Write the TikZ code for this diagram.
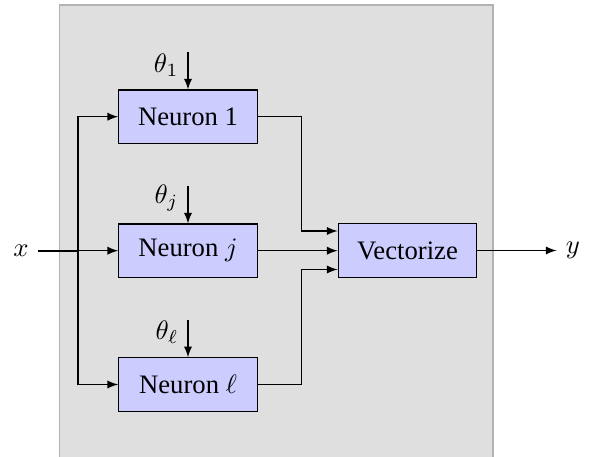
\documentclass[tikz,border=0pt]{standalone}
\usepackage[no-math]{fontspec}
\setmainfont{Liberation Serif}
\usetikzlibrary{calc,arrows}
\begin{document}
\begin{tikzpicture}[x=0.375pt,y=-0.375pt,
  blk/.style={draw=black,fill=blue!20,minimum width=52pt,minimum height=20pt,inner sep=0pt,line width=0.4pt},
  conn/.style={-latex,line width=0.4pt},
  lbl/.style={inner sep=0pt}]
\useasboundingbox (0,0) rectangle (594,457);
\clip (0,0) rectangle (594,457);
\draw[draw=gray!60,fill=gray!25] (59.5,5) rectangle (493,470);
\node[blk] (n1) at (188,116.7) {Neuron 1};
\node[blk] (nj) at (188,250.7) {Neuron $j$};
\node[blk] (nl) at (188,384.5) {Neuron $\ell$};
\node[blk] (vec) at (407.5,250.5) {Vectorize};
\node (x) at (21,250.7) {$x$};
\node (y) at (573,250.5) {$y$};
\coordinate (t1) at (188,52);
\coordinate (tj) at (188,186);
\coordinate (tl) at (188,320);
\node[lbl,anchor=east] (th1) at (179,65) {$\theta_1$};
\node[lbl,anchor=east] (thj) at (179,198) {$\theta_j$};
\node[lbl,anchor=east] (thl) at (179,332) {$\theta_\ell$};
\draw[conn] (t1) -- (n1.north);
\draw[conn] (tj) -- (nj.north);
\draw[conn] (tl) -- (nl.north);
\coordinate (sp) at (78,250.7);
\coordinate (sv) at (78,175);
\draw[conn] (x) -- (nj.west);
\draw[line width=0.7pt] (x) -- (sp) -- (sv);
\draw[conn] (sp) |- (n1.west);
\draw[conn] (sp) |- (nl.west);
\coordinate (m1) at (301.7,231);
\coordinate (ml) at (301.7,269.5);
\draw[conn] (n1.east) -| (m1) -- (vec.west |- m1);
\draw[conn] (nj.east) -- (vec.west |- nj.east);
\draw[conn] (nl.east) -| (ml) -- (vec.west |- ml);
\draw[conn] (vec.east) -- (y);
\end{tikzpicture}
\end{document}
